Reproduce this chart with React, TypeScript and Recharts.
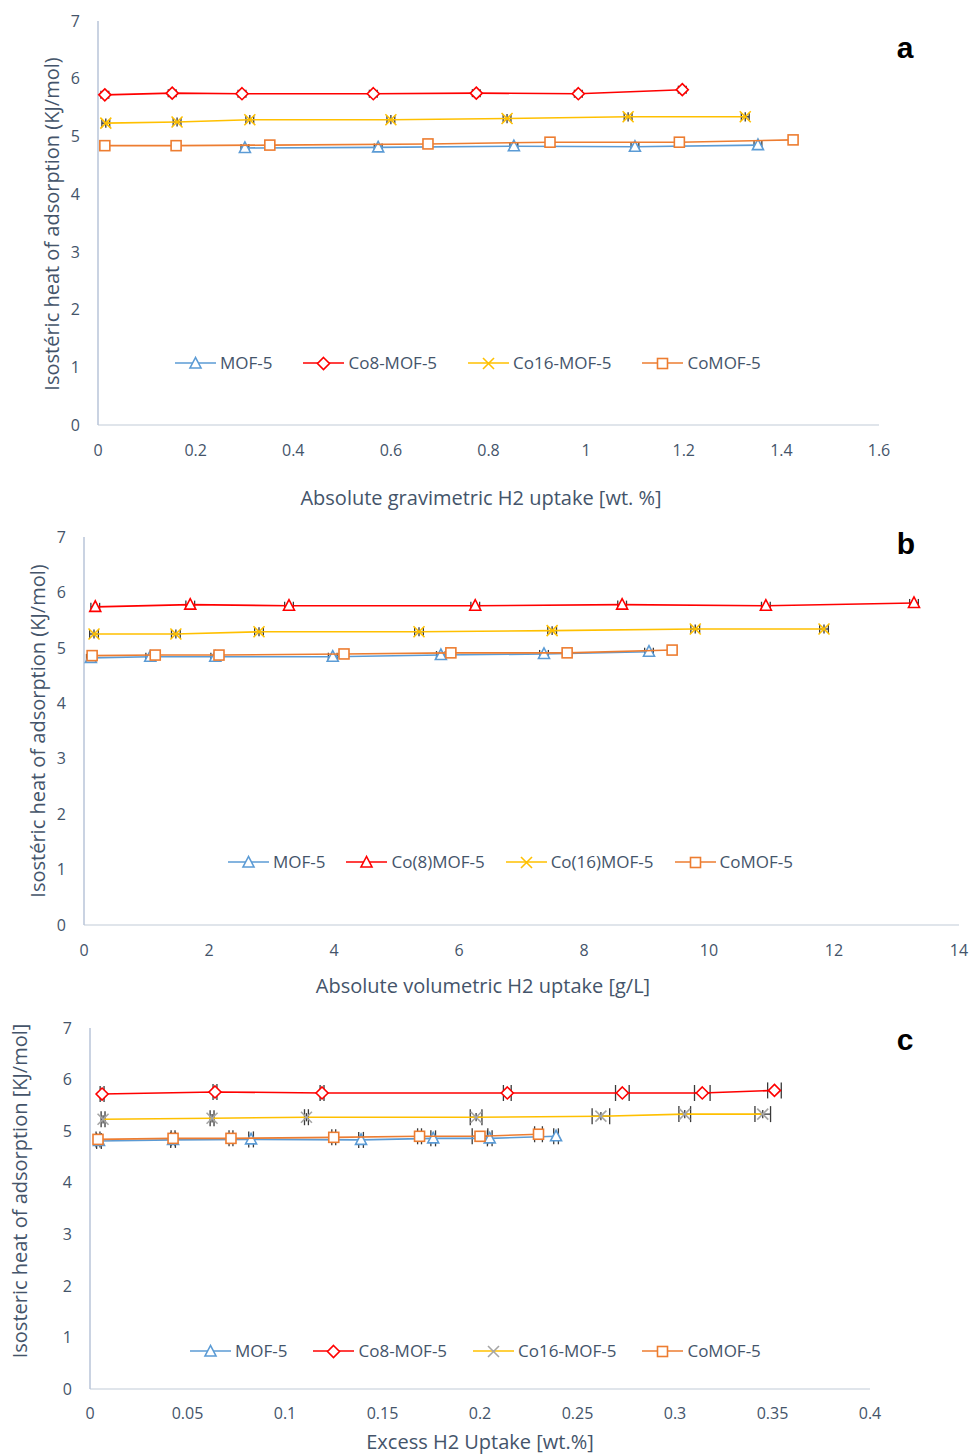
import React from 'react';
import { ScatterChart, Scatter, XAxis, YAxis, Legend, ErrorBar } from 'recharts';

// ---------- Panel a: absolute gravimetric uptake [wt. %] ----------
const aMofX = [0.301, 0.574, 0.852, 1.1, 1.352];
const aMofY = [4.8, 4.81, 4.83, 4.82, 4.85];
const aCo8X = [0.014, 0.152, 0.295, 0.564, 0.775, 0.984, 1.197];
const aCo8Y = [5.72, 5.75, 5.74, 5.74, 5.75, 5.74, 5.81];
const aCo16X = [0.016, 0.162, 0.311, 0.6, 0.838, 1.086, 1.326];
const aCo16Y = [5.23, 5.25, 5.29, 5.29, 5.31, 5.34, 5.34];
const aCoX = [0.014, 0.16, 0.352, 0.676, 0.926, 1.191, 1.424];
const aCoY = [4.84, 4.84, 4.85, 4.87, 4.9, 4.9, 4.94];
const aTicksX = [0, 0.2, 0.4, 0.6, 0.8, 1, 1.2, 1.4, 1.6];

// ---------- Panel b: absolute volumetric uptake [g/L] ----------
const bMofX = [0.11, 1.06, 2.1, 3.98, 5.71, 7.36, 9.04];
const bMofY = [4.82, 4.84, 4.84, 4.84, 4.87, 4.89, 4.93];
const bCo8X = [0.18, 1.7, 3.28, 6.26, 8.61, 10.91, 13.28];
const bCo8Y = [5.74, 5.78, 5.76, 5.76, 5.78, 5.76, 5.81];
const bCo16X = [0.16, 1.47, 2.8, 5.36, 7.49, 9.78, 11.84];
const bCo16Y = [5.25, 5.25, 5.29, 5.29, 5.31, 5.34, 5.34];
const bCoX = [0.13, 1.14, 2.16, 4.16, 5.87, 7.73, 9.41];
const bCoY = [4.86, 4.87, 4.87, 4.89, 4.91, 4.91, 4.96];
const bTicksX = [0, 2, 4, 6, 8, 10, 12, 14];

// ---------- Panel c: excess uptake [wt.%] ----------
const cMofX = [0.0046, 0.0426, 0.0826, 0.139, 0.176, 0.205, 0.239];
const cMofY = [4.81, 4.83, 4.84, 4.83, 4.86, 4.86, 4.9];
const cCo8X = [0.0062, 0.0641, 0.119, 0.214, 0.273, 0.314, 0.351];
const cCo8Y = [5.72, 5.76, 5.74, 5.74, 5.74, 5.74, 5.79];
const cCo8Ex = [0.001, 0.001, 0.001, 0.002, 0.0035, 0.004, 0.0035];
const cCo16X = [0.0067, 0.0626, 0.111, 0.198, 0.262, 0.305, 0.345];
const cCo16Y = [5.23, 5.25, 5.27, 5.27, 5.29, 5.33, 5.33];
const cCo16Ex = [0.001, 0.001, 0.001, 0.003, 0.0045, 0.003, 0.004];
const cCoX = [0.0041, 0.0426, 0.0723, 0.125, 0.169, 0.2, 0.23];
const cCoY = [4.84, 4.86, 4.86, 4.88, 4.9, 4.9, 4.94];
const cCoEx = [0.001, 0.001, 0.001, 0.001, 0.001, 0.004, 0.002];
const cTicksX = [0, 0.05, 0.1, 0.15, 0.2, 0.25, 0.3, 0.35, 0.4];

const yTicks = [0, 1, 2, 3, 4, 5, 6, 7];

// small measurement error bars seen as dark crosses in the markers
const aErrX = 0.008;
const bErrX = 0.07;
const cErrX = 0.0012;
const errY = 0.08;

const BLUE = '#5B9BD5';
const RED = '#FF0000';
const YELLOW = '#FFC000';
const ORANGE = '#ED7D31';
const GREY = '#A5A5A5';
const DARK = '#3A3A3A';
const TEXT = '#44546A';
const FONT = "'Open Sans', sans-serif";

type Shape = 'tri' | 'dia' | 'x' | 'sq';

function marker(shape: Shape, cx: number, cy: number, color: string, key?: string) {
  const sw = 1.6;
  if (shape === 'tri') {
    return (
      <polygon key={key} points={`${cx},${cy - 6} ${cx - 5.5},${cy + 4.5} ${cx + 5.5},${cy + 4.5}`} fill="#fff" stroke={color} strokeWidth={sw} />
    );
  }
  if (shape === 'dia') {
    return (
      <polygon key={key} points={`${cx},${cy - 6} ${cx + 6},${cy} ${cx},${cy + 6} ${cx - 6},${cy}`} fill="#fff" stroke={color} strokeWidth={sw} />
    );
  }
  if (shape === 'sq') {
    return <rect key={key} x={cx - 5} y={cy - 5} width={10} height={10} fill="#fff" stroke={color} strokeWidth={sw} />;
  }
  return (
    <g key={key}>
      <line x1={cx - 5.5} y1={cy - 5.5} x2={cx + 5.5} y2={cy + 5.5} stroke={color} strokeWidth={sw} />
      <line x1={cx - 5.5} y1={cy + 5.5} x2={cx + 5.5} y2={cy - 5.5} stroke={color} strokeWidth={sw} />
    </g>
  );
}

const shapeFn = (shape: Shape, color: string) => (props: any) => {
  const { cx, cy } = props;
  if (cx == null || cy == null) return <g />;
  return marker(shape, cx, cy, color);
};

const emptyShape = () => <g />;

function pts(xs: number[], ys: number[], ex: number | number[], ey: number) {
  return xs.map((x, i) => ({ x, y: ys[i], ex: Array.isArray(ex) ? ex[i] : ex, ey }));
}

type SeriesDef = {
  name: string;
  data: { x: number; y: number; ex: number; ey: number }[];
  line: string;
  mark: string;
  shape: Shape;
};

type PanelDef = {
  top: number;
  height: number;
  margin: { top: number; right: number; bottom: number; left: number };
  xDomain: [number, number];
  xTicks: number[];
  tickMarginX: number;
  legendTop: number;
  legendLeft: number;
  legendGap: number;
  capX: number;
  series: SeriesDef[];
};

const panels: PanelDef[] = [
  {
    top: 0,
    height: 470,
    margin: { top: 21, right: 92, bottom: 15, left: 38 },
    xDomain: [0, 1.6],
    xTicks: aTicksX,
    tickMarginX: 20,
    legendTop: 351,
    legendLeft: 175,
    legendGap: 31,
    capX: 4,
    series: [
      { name: 'MOF-5', data: pts(aMofX, aMofY, aErrX, errY), line: BLUE, mark: BLUE, shape: 'tri' },
      { name: 'Co8-MOF-5', data: pts(aCo8X, aCo8Y, aErrX, errY), line: RED, mark: RED, shape: 'dia' },
      { name: 'Co16-MOF-5', data: pts(aCo16X, aCo16Y, aErrX, errY), line: YELLOW, mark: YELLOW, shape: 'x' },
      { name: 'CoMOF-5', data: pts(aCoX, aCoY, aErrX, errY), line: ORANGE, mark: ORANGE, shape: 'sq' },
    ],
  },
  {
    top: 500,
    height: 470,
    margin: { top: 37, right: 12, bottom: 15, left: 24 },
    xDomain: [0, 14],
    xTicks: bTicksX,
    tickMarginX: 20,
    legendTop: 350,
    legendLeft: 228,
    legendGap: 21,
    capX: 4,
    series: [
      { name: 'MOF-5', data: pts(bMofX, bMofY, bErrX, errY), line: BLUE, mark: BLUE, shape: 'tri' },
      { name: 'Co(8)MOF-5', data: pts(bCo8X, bCo8Y, bErrX, errY), line: RED, mark: RED, shape: 'tri' },
      { name: 'Co(16)MOF-5', data: pts(bCo16X, bCo16Y, bErrX, errY), line: YELLOW, mark: YELLOW, shape: 'x' },
      { name: 'CoMOF-5', data: pts(bCoX, bCoY, bErrX, errY), line: ORANGE, mark: ORANGE, shape: 'sq' },
    ],
  },
  {
    top: 1000,
    height: 456,
    margin: { top: 28, right: 101, bottom: 37, left: 30 },
    xDomain: [0, 0.4],
    xTicks: cTicksX,
    tickMarginX: 19,
    legendTop: 339,
    legendLeft: 190,
    legendGap: 26,
    capX: 8,
    series: [
      { name: 'MOF-5', data: pts(cMofX, cMofY, cErrX, errY), line: BLUE, mark: BLUE, shape: 'tri' },
      { name: 'Co8-MOF-5', data: pts(cCo8X, cCo8Y, cCo8Ex, errY), line: RED, mark: RED, shape: 'dia' },
      { name: 'Co16-MOF-5', data: pts(cCo16X, cCo16Y, cCo16Ex, errY), line: YELLOW, mark: GREY, shape: 'x' },
      { name: 'CoMOF-5', data: pts(cCoX, cCoY, cCoEx, errY), line: ORANGE, mark: ORANGE, shape: 'sq' },
    ],
  },
];

const LegendBox = ({ series, gap }: { series: SeriesDef[]; gap: number }) => (
  <div style={{ display: 'flex', alignItems: 'center', fontFamily: FONT, fontSize: 17, color: TEXT, whiteSpace: 'nowrap' }}>
    {series.map((s, i) => (
      <div key={s.name} style={{ display: 'flex', alignItems: 'center', marginRight: i < series.length - 1 ? gap : 0 }}>
        <svg width={41} height={18}>
          <line x1={0} y1={9} x2={41} y2={9} stroke={s.line} strokeWidth={1.5} />
          {marker(s.shape, 20.5, 9.5, s.mark)}
        </svg>
        <span style={{ marginLeft: 4 }}>{s.name}</span>
      </div>
    ))}
  </div>
);

const tickStyle = { fill: TEXT, fontSize: 16, fontFamily: FONT };

const Panel = ({ p }: { p: PanelDef }) => (
  <div style={{ position: 'absolute', left: 0, top: p.top }}>
    <ScatterChart width={971} height={p.height} margin={p.margin}>
      <XAxis
        type="number"
        dataKey="x"
        domain={p.xDomain}
        ticks={p.xTicks}
        tickLine={false}
        tickSize={0}
        tickMargin={p.tickMarginX}
        axisLine={{ stroke: '#D6DCE5', strokeWidth: 1.5 }}
        tick={tickStyle}
        height={30}
        interval={0}
      />
      <YAxis
        type="number"
        dataKey="y"
        domain={[0, 7]}
        ticks={yTicks}
        tickLine={false}
        tickSize={0}
        tickMargin={18}
        axisLine={{ stroke: '#B8C4D8', strokeWidth: 1.5 }}
        tick={tickStyle}
        width={60}
        interval={0}
      />
      <Legend
        layout="horizontal"
        verticalAlign="middle"
        align="center"
        wrapperStyle={{ position: 'absolute', top: p.legendTop, left: p.legendLeft, width: 'auto' }}
        content={() => <LegendBox series={p.series} gap={p.legendGap} />}
      />
      {p.series.map((s) => (
        <Scatter
          key={s.name}
          name={s.name}
          data={s.data}
          fill={s.mark}
          line={{ stroke: s.line, strokeWidth: 1.6 }}
          lineType="joint"
          shape={shapeFn(s.shape, s.mark)}
          isAnimationActive={false}
        />
      ))}
      {p.series.map((s) => (
        <Scatter
          key={s.name + '-err'}
          name={s.name + ' error'}
          data={s.data}
          fill="none"
          legendType="none"
          shape={emptyShape}
          isAnimationActive={false}
        >
          <ErrorBar dataKey="ex" direction="x" width={p.capX} stroke={DARK} strokeWidth={1.3} isAnimationActive={false} />
          <ErrorBar dataKey="ey" direction="y" width={0} stroke={DARK} strokeWidth={1.3} isAnimationActive={false} />
        </Scatter>
      ))}
    </ScatterChart>
  </div>
);

export default function App() {
  const titleStyle = { fill: TEXT, fontFamily: FONT, fontSize: 20 } as const;
  return (
    <div style={{ position: 'absolute', left: 0, top: 0, width: 971, height: 1456, background: '#fff' }}>
      {panels.map((p, i) => (
        <Panel key={i} p={p} />
      ))}
      <svg width={971} height={1456} style={{ position: 'absolute', left: 0, top: 0, pointerEvents: 'none' }}>
        <text x={481} y={505} textAnchor="middle" {...titleStyle}>Absolute gravimetric H2 uptake [wt. %]</text>
        <text x={483} y={993} textAnchor="middle" {...titleStyle}>Absolute volumetric H2 uptake [g/L]</text>
        <text x={480} y={1449} textAnchor="middle" {...titleStyle}>Excess H2 Uptake [wt.%]</text>
        <text transform="translate(59,224) rotate(-90)" textAnchor="middle" {...titleStyle}>Isostéric heat of adsorption (KJ/mol)</text>
        <text transform="translate(45,731) rotate(-90)" textAnchor="middle" {...titleStyle}>Isostéric heat of adsorption (KJ/mol)</text>
        <text transform="translate(27,1191) rotate(-90)" textAnchor="middle" {...titleStyle}>Isosteric heat of adsorption [KJ/mol]</text>
        <text x={905} y={58} textAnchor="middle" fontFamily="'Liberation Sans', Arial, sans-serif" fontWeight="bold" fontSize={30} fill="#000">a</text>
        <text x={906} y={554} textAnchor="middle" fontFamily="'Liberation Sans', Arial, sans-serif" fontWeight="bold" fontSize={30} fill="#000">b</text>
        <text x={905} y={1050} textAnchor="middle" fontFamily="'Liberation Sans', Arial, sans-serif" fontWeight="bold" fontSize={30} fill="#000">c</text>
      </svg>
    </div>
  );
}
